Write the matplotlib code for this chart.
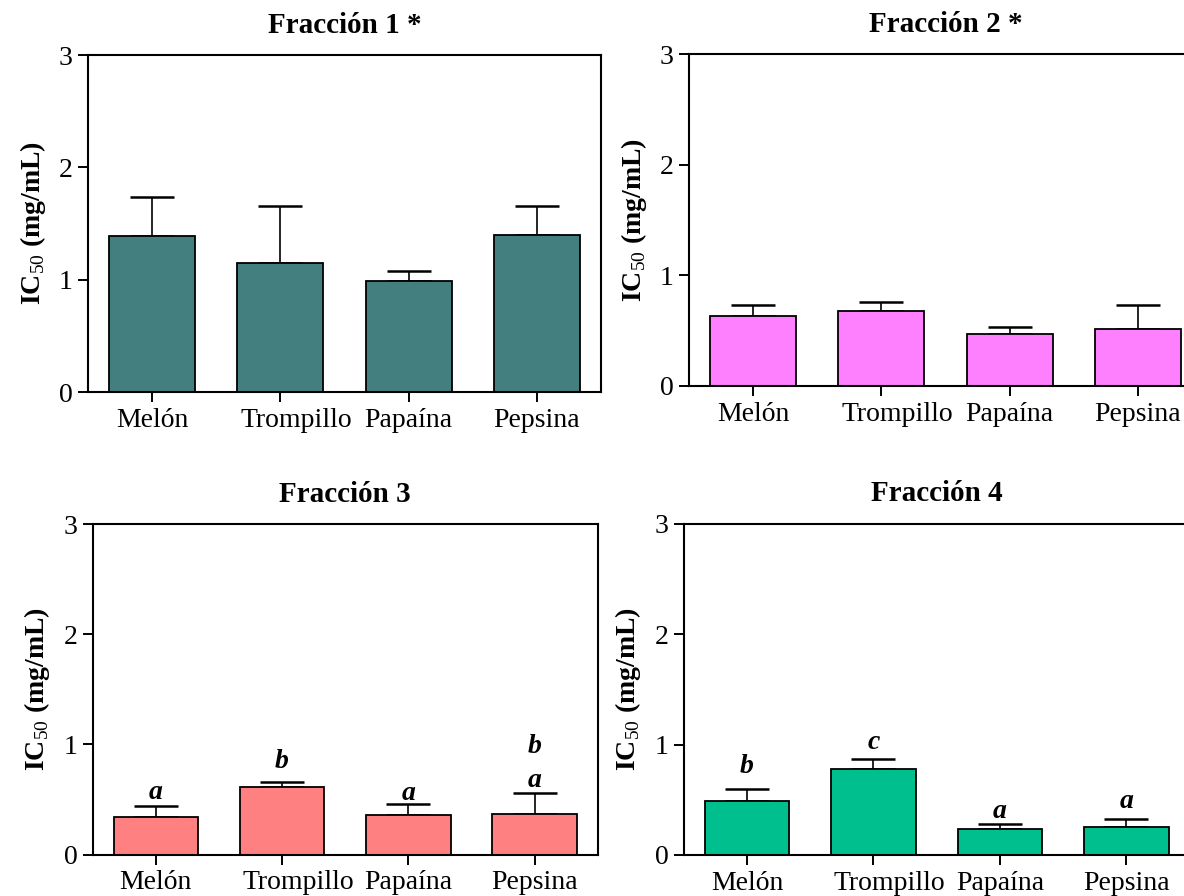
import numpy as np
import matplotlib
matplotlib.use("Agg")
import matplotlib.pyplot as plt
from matplotlib.transforms import ScaledTranslation

plt.rcParams['font.family'] = ['Liberation Serif', 'DejaVu Serif']
plt.rcParams['mathtext.fontset'] = 'custom'
plt.rcParams['mathtext.rm'] = 'Liberation Serif'

categories = ['Melón', 'Trompillo', 'Papaína', 'Pepsina']

f1_mean = [1.39, 1.15, 0.99, 1.40]
f1_err = [0.35, 0.51, 0.09, 0.26]
f2_mean = [0.63, 0.68, 0.47, 0.515]
f2_err = [0.10, 0.08, 0.065, 0.215]
f3_mean = [0.34, 0.61, 0.36, 0.37]
f3_err = [0.10, 0.045, 0.10, 0.19]
f4_mean = [0.49, 0.78, 0.235, 0.255]
f4_err = [0.105, 0.09, 0.045, 0.075]

# significance letters: (bar index, letter, baseline height)
f3_letters = [(0, 'a', 0.507), (1, 'b', 0.789), (2, 'a', 0.491), (3, 'a', 0.616), (3, 'b', 0.919)]
f4_letters = [(0, 'b', 0.744), (1, 'c', 0.961), (2, 'a', 0.337), (3, 'a', 0.428)]

titles = ['Fracción 1 *', 'Fracción 2 *', 'Fracción 3', 'Fracción 4']
colors = ['#437F7E', '#FF80FF', '#FF8080', '#00BF8F']

fig = plt.figure(figsize=(11.84, 8.96), dpi=100)
positions = [
    [0.0743, 0.5625, 0.4333, 0.3761],
    [0.5819, 0.5692, 0.4333, 0.3705],
    [0.0783, 0.0463, 0.4265, 0.3685],
    [0.5774, 0.0458, 0.4274, 0.3698],
]
means = [f1_mean, f2_mean, f3_mean, f4_mean]
errs = [f1_err, f2_err, f3_err, f4_err]
letters = [[], [], f3_letters, f4_letters]

x = np.arange(len(categories))
for i in range(4):
    ax = fig.add_axes(positions[i])
    ax.bar(x, means[i], width=0.67, color=colors[i], edgecolor='black', linewidth=1.3, zorder=2)
    ax.errorbar(x, means[i], yerr=[np.zeros(len(x)), errs[i]], fmt='none', ecolor='black',
                elinewidth=1.2, capsize=15.5, capthick=1.8, zorder=1)
    for idx, let, yy in letters[i]:
        ax.text(x[idx], yy, let, ha='center', va='baseline', fontsize=20,
                fontweight='bold', fontstyle='italic')
    ax.set_xlim(-0.5, 3.5)
    ax.set_ylim(0, 3)
    ax.set_yticks([0, 1, 2, 3])
    ax.set_xticks(x)
    ax.set_xticklabels(categories)
    ax.tick_params(axis='both', direction='out', length=7, width=1.4, labelsize=20)
    ax.tick_params(axis='y', pad=4)
    ax.tick_params(axis='x', pad=4.5)
    # "Trompillo" sits a bit right of its tick in the original
    lab = ax.get_xticklabels()[1]
    lab.set_transform(lab.get_transform() + ScaledTranslation(0.16, 0, fig.dpi_scale_trans))
    for sp in ax.spines.values():
        sp.set_linewidth(1.5)
    ax.set_ylabel('IC$_{\\mathrm{50}}$ (mg/mL)', fontsize=20, fontweight='bold', labelpad=8)
    ax.set_title(titles[i], fontsize=21, fontweight='bold', pad=16)

fig.savefig('out.png', dpi=100)
